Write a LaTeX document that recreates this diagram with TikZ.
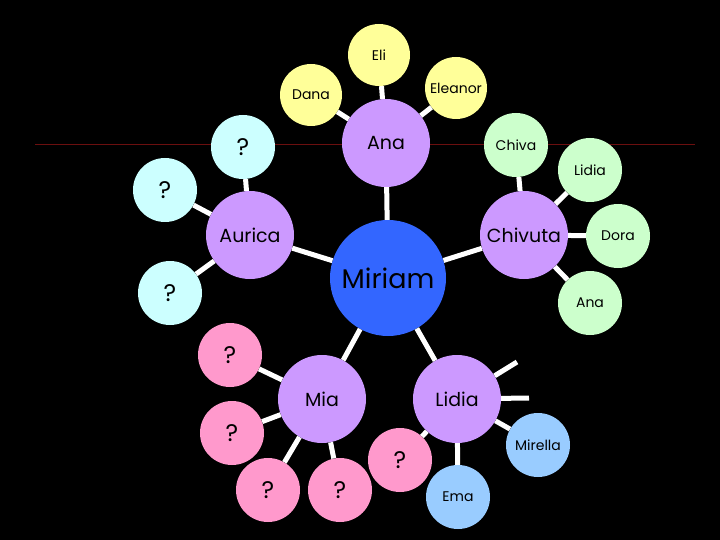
\documentclass[tikz,border=0pt]{standalone}
\usepackage{fontspec}
\setmainfont{Poppins}
\begin{document}
\begin{tikzpicture}[x=1pt,y=-1pt,
  c/.style={circle,draw=none,inner sep=0pt,minimum size=#1},
  y1/.style={c=62pt,fill=yel,font=\fontsize{14}{14}\selectfont},
  cy/.style={c=64pt,fill=cya,font=\fontsize{24}{24}\selectfont},
  pk/.style={c=64pt,fill=pnk,font=\fontsize{24}{24}\selectfont},
  gr/.style={c=64pt,fill=grn,font=\fontsize{14}{14}\selectfont},
  lb/.style={c=64pt,fill=lbl,font=\fontsize{14}{14}\selectfont},
  pu/.style={c=88pt,fill=pur,font=\fontsize{19}{19}\selectfont},
  e/.style={white,line width=5pt}]
\definecolor{yel}{HTML}{FFFF99}\definecolor{cya}{HTML}{CCFFFF}
\definecolor{pnk}{HTML}{FF99CC}\definecolor{grn}{HTML}{CCFFCC}
\definecolor{lbl}{HTML}{99CCFF}\definecolor{pur}{HTML}{CC99FF}
\definecolor{blu}{HTML}{3366FF}\definecolor{dred}{HTML}{6B0F0F}
\fill[black] (0,0) rectangle (720,540);
\useasboundingbox (0,0) rectangle (720,540);
\coordinate (rl) at (35,145); \coordinate (rr) at (695,145);
\draw[dred,line width=1pt] (rl) -- (rr);
\node[pu] (ana) at (386,143) {Ana};
\node[pu] (aur) at (250,235) {Aurica};
\node[pu] (chu) at (524,235) {Chivuta};
\node[pu] (mia) at (322,399) {Mia};
\node[pu] (lid) at (457,399) {Lidia};
\node[c=116pt,fill=blu,font=\fontsize{27}{27}\selectfont] (mir) at (388,278) {Miriam};
\node[y1] (eli) at (379,55) {Eli};
\node[y1] (dan) at (311,95) {Dana};
\node[y1] (ele) at (456,88) {Eleanor};
\node[cy] (q1) at (243,147) {?};
\node[cy] (q2) at (165,190) {?};
\node[cy] (q3) at (170,293) {?};
\node[gr] (chi) at (516,145) {Chiva};
\node[gr] (lg) at (590,170) {Lidia};
\node[gr] (dor) at (618,236) {Dora};
\node[gr] (ag) at (590,303) {Ana};
\node[pk] (p1) at (230,355) {?};
\node[pk] (p2) at (232,433) {?};
\node[pk] (p3) at (268,490) {?};
\node[pk] (p4) at (340,490) {?};
\node[pk] (p5) at (400,460) {?};
\node[lb] (mrl) at (538,445) {Mirella};
\node[lb] (ema) at (458,497) {Ema};
\coordinate (s1) at (517,362); \coordinate (s2) at (529,398);
\begin{scope}[on background layer/.style={}]
\end{scope}
\foreach \a/\b in {mir/ana,mir/aur,mir/chu,mir/mia,mir/lid,ana/eli,ana/dan,ana/ele,
  aur/q1,aur/q2,aur/q3,chu/chi,chu/lg,chu/dor,chu/ag,mia/p1,mia/p2,mia/p3,mia/p4,
  lid/p5,lid/mrl,lid/ema}
  \draw[e] (\a) -- (\b);
\draw[e] (lid) -- (s1);
\draw[e] (lid) -- (s2);
\end{tikzpicture}
\end{document}
